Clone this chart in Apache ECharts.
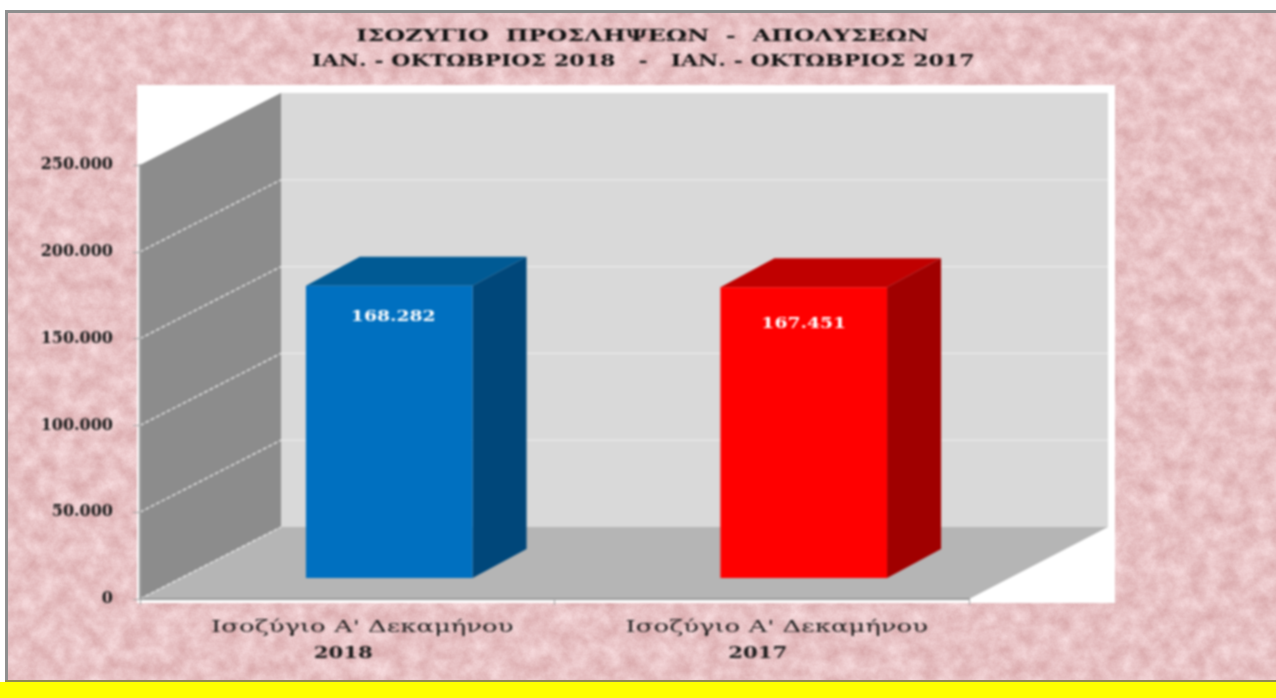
<!DOCTYPE html>
<html><head><meta charset="utf-8">
<style>
html,body{margin:0;padding:0;background:#fff;overflow:hidden}
#paper{position:absolute;left:6px;top:10px;width:1270px;height:672px;display:block}
#frameTop{position:absolute;left:5px;top:10px;width:1271px;height:3px;background:#8e8e8e}
#frameLeft{position:absolute;left:5px;top:10px;width:3px;height:671px;background:#8e8e8e}
#strip{position:absolute;left:5px;top:680px;width:1271px;height:2px;background:#8f8a55}
#yellow{position:absolute;left:0;top:682px;width:1276px;height:16px;background:#ffff00}
#chart{position:absolute;left:0;top:0;width:1276px;height:698px;filter:blur(0.9px)}
</style>
<script src="https://cdn.jsdelivr.net/npm/echarts@6/dist/echarts.min.js"></script>
</head><body>
<svg id="paper" xmlns="http://www.w3.org/2000/svg">
<filter id="mottle" x="0" y="0" width="100%" height="100%" color-interpolation-filters="sRGB">
<feTurbulence type="fractalNoise" baseFrequency="0.06" numOctaves="4" seed="7"/>
<feColorMatrix type="matrix" values="0.14 0 0 0 0.84  0.24 0 0 0 0.64  0.24 0 0 0 0.65  0 0 0 0 1"/>
</filter>
<rect width="100%" height="100%" filter="url(#mottle)"/>
</svg>
<div id="frameTop"></div><div id="frameLeft"></div><div id="strip"></div><div id="yellow"></div>
<div id="chart"></div>
<script>
const titleLines = ['ΙΣΟΖΥΓΙΟ  ΠΡΟΣΛΗΨΕΩΝ  -  ΑΠΟΛΥΣΕΩΝ', 'ΙΑΝ. - ΟΚΤΩΒΡΙΟΣ 2018   -   ΙΑΝ. - ΟΚΤΩΒΡΙΟΣ 2017'];
const categoryNames = ["Ισοζύγιο Α' Δεκαμήνου", "Ισοζύγιο Α' Δεκαμήνου"];
const categoryYears = ['2018', '2017'];
const balanceValues = [168282, 167451];
const balanceLabels = ['168.282', '167.451'];
const yTickValues = [0, 50000, 100000, 150000, 200000, 250000];
const yTickLabels = ['0', '50.000', '100.000', '150.000', '200.000', '250.000'];

const WALL_DX = 141, WALL_RIGHT_DX = 139, WALL_DY = 72, BAR_DX = 54, BAR_DY = 29, BAR_SHIFT_X = 42, BAR_SHIFT_Y = 21, BAR_RATIO = 0.402;
const barColors = [
  {front:'#0070c0', top:'#005a94', side:'#00477a'},
  {front:'#ff0000', top:'#c00000', side:'#a00000'}
];
const labelDrop = [31, 37];
const labelNudge = [4, 0];
const SERIF = '"DejaVu Serif","Liberation Serif",serif';

function poly(points, fill) {
  return {type:'polygon', shape:{points}, style:{fill}, silent:true};
}
function renderWalls(params, api) {
  const origin = api.coord([0, 0]);
  const x0 = params.coordSys.x, x1 = x0 + params.coordSys.width;
  const y0 = origin[1], top = api.coord([0, 250000])[1];
  const bx0 = x0 + WALL_DX, bx1 = x1 + WALL_RIGHT_DX;
  const kids = [];
  kids.push({type:'rect', shape:{x:x0-3, y:top-80, width:x1-x0+149, height:y0-top+84}, style:{fill:'#ffffff'}, silent:true});
  kids.push(poly([[bx0,top-WALL_DY],[bx1,top-WALL_DY],[bx1,y0-WALL_DY],[bx0,y0-WALL_DY]], '#d9d9d9'));
  kids.push(poly([[x0,top],[bx0,top-WALL_DY],[bx0,y0-WALL_DY],[x0,y0]], '#8c8c8c'));
  kids.push(poly([[x0,y0],[bx0,y0-WALL_DY],[bx1,y0-WALL_DY],[x1,y0]], '#b5b5b5'));
  yTickValues.forEach(v => {
    const y = api.coord([0, v])[1];
    if (v < 250000) {
      kids.push({type:'line', shape:{x1:x0, y1:y, x2:bx0, y2:y-WALL_DY}, style:{stroke:'#eeeeee', lineWidth:1.3, lineDash:[4,2]}, silent:true});
    }
    if (v > 0 && v < 250000) {
      kids.push({type:'line', shape:{x1:bx0, y1:y-WALL_DY, x2:bx1, y2:y-WALL_DY}, style:{stroke:'#ebebeb', lineWidth:1.2}, silent:true});
    }
  });
  return {type:'group', children:kids};
}
function renderBar(params, api) {
  const i = api.value(0), v = api.value(1);
  const bw = api.size([1, 0])[0] * BAR_RATIO;
  const p = api.coord([i, v]), b = api.coord([i, 0]);
  const l = p[0] - bw/2 + BAR_SHIFT_X, r = l + bw;
  const t = p[1] - BAR_SHIFT_Y, u = b[1] - BAR_SHIFT_Y;
  const c = barColors[i];
  return {type:'group', children:[
    poly([[l,t],[l+BAR_DX,t-BAR_DY],[r+BAR_DX,t-BAR_DY],[r,t]], c.top),
    poly([[r,t],[r+BAR_DX,t-BAR_DY],[r+BAR_DX,u-BAR_DY],[r,u]], c.side),
    {type:'rect', shape:{x:l, y:t, width:bw, height:u-t}, style:{fill:c.front}, silent:true},
    {type:'text', x:(l+r)/2+labelNudge[i], y:t+labelDrop[i], silent:true, scaleX:1.25, style:{text:balanceLabels[i], fill:'#ffffff', font:'bold 15px '+SERIF, align:'center', verticalAlign:'middle'}}
  ]};
}
function renderCategoryLabel(params, api) {
  const i = api.value(0);
  const c = api.coord([i, 0]);
  return {type:'group', children:[
    {type:'text', x:c[0]+15, y:c[1]+29, scaleX:1.62, silent:true, style:{text:categoryNames[i], fill:'#1a1a1a', font:'16px '+SERIF, align:'center', verticalAlign:'middle'}},
    {type:'text', x:c[0]-4, y:c[1]+55, scaleX:1.33, silent:true, style:{text:categoryYears[i], fill:'#1a1a1a', font:'bold 16px '+SERIF, align:'center', verticalAlign:'middle'}}
  ]};
}
const chart = echarts.init(document.getElementById('chart'), null, {renderer:'canvas'});
chart.setOption({
  animation:false,
  backgroundColor:'transparent',
  grid:{left:140, top:165, width:829, height:434, containLabel:false},
  xAxis:{type:'category', data:categoryYears, z:5,
    axisLine:{lineStyle:{color:'#999999', width:2}},
    axisTick:{show:true, alignWithLabel:false, length:6, lineStyle:{color:'#a0a0a0'}},
    axisLabel:{show:false}, splitLine:{show:false}},
  yAxis:{type:'value', min:0, max:250000, interval:50000, z:5,
    axisLine:{show:true, lineStyle:{color:'#a0a0a0', width:2}},
    axisTick:{show:true, length:7, lineStyle:{color:'#a0a0a0'}},
    axisLabel:{margin:27, color:'#1a1a1a', fontFamily:SERIF, fontWeight:'bold', fontSize:16,
      formatter:(v)=>yTickLabels[yTickValues.indexOf(v)]},
    splitLine:{show:false}},
  series:[
    {type:'custom', coordinateSystem:'cartesian2d', renderItem:renderWalls, data:[[0,0]], z:1, silent:true, encode:{x:0,y:1}},
    {type:'custom', coordinateSystem:'cartesian2d', renderItem:renderBar, data:balanceValues.map((v,i)=>[i,v]), z:2, silent:true, encode:{x:0,y:1}},
    {type:'custom', coordinateSystem:'cartesian2d', renderItem:renderCategoryLabel, data:balanceValues.map((v,i)=>[i,0]), z:3, silent:true, encode:{x:0,y:1}}
  ],
  graphic:[
    {type:'text', x:642.5, y:37, scaleX:1.5, z:10, silent:true, style:{text:titleLines[0], fill:'#111111', font:'bold 16px '+SERIF, align:'center', verticalAlign:'middle'}},
    {type:'text', x:643, y:62, scaleX:1.38, z:10, silent:true, style:{text:titleLines[1], fill:'#111111', font:'bold 16px '+SERIF, align:'center', verticalAlign:'middle'}}
  ]
});
</script>
</body></html>
